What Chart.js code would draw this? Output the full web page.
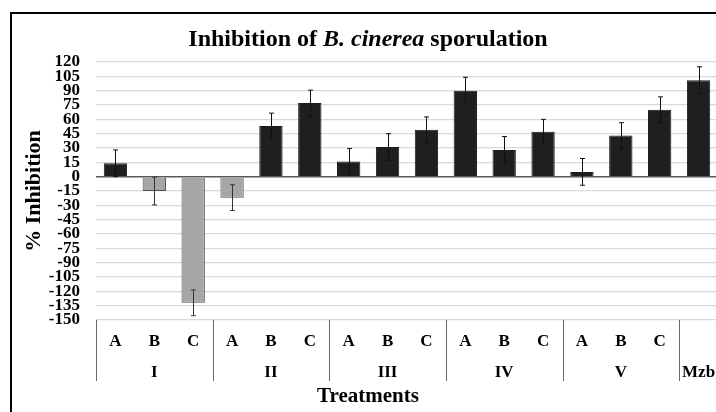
<!DOCTYPE html>
<html>
<head>
<meta charset="utf-8">
<script src="https://cdn.jsdelivr.net/npm/chart.js@4"></script>
<style>
  html, body { margin: 0; padding: 0; background: #fff; overflow: hidden; }
  #wrap { width: 722px; height: 412px; }
</style>
</head>
<body>
<div id="wrap"><canvas id="chart" width="722" height="412"></canvas></div>
<script>
// treatments along the x axis (sub label + group)
const categories = ['A', 'B', 'C', 'A', 'B', 'C', 'A', 'B', 'C', 'A', 'B', 'C', 'A', 'B', 'C', ''];
const groupLabels = ['I', 'II', 'III', 'IV', 'V', 'Mzb'];
const groupSizes = [3, 3, 3, 3, 3, 1];

// % inhibition, with the error bar half lengths
const inhibition = [14, -15, -132, -22, 53, 77, 16, 31, 49, 90, 28, 47, 5, 43, 70, 101];
const errors = [14, 14.5, 13.5, 13.5, 13.5, 13.5, 13.5, 14, 13.5, 14, 14, 13, 14, 13.5, 13.5, 14];

const yMin = -150;
const yMax = 120;
const yStep = 15;

const serif = '"Liberation Serif", "Times New Roman", serif';

let chartElement = document.querySelector('#chart');

// error bars, frame, title and the two level x axis
const decorPlugin = {
    id: 'decor',
    beforeDraw(chart) {
        let ctx = chart.ctx;
        ctx.save();
        ctx.fillStyle = '#fff';
        ctx.fillRect(0, 0, chart.width, chart.height);
        ctx.restore();
    },
    afterDatasetsDraw(chart) {
        let ctx = chart.ctx;
        let x = chart.scales.x;
        let y = chart.scales.y;
        ctx.save();
        ctx.lineWidth = 1;
        inhibition.forEach((v, i) => {
            let cx = Math.round(x.getPixelForValue(i)) + 0.5;
            let top = y.getPixelForValue(v + errors[i]);
            let bot = y.getPixelForValue(v - errors[i]);
            ctx.strokeStyle = v < 0 ? '#333' : '#111';
            ctx.beginPath();
            ctx.moveTo(cx, top);
            ctx.lineTo(cx, bot);
            ctx.moveTo(cx - 2.5, top);
            ctx.lineTo(cx + 2.5, top);
            ctx.moveTo(cx - 2.5, bot);
            ctx.lineTo(cx + 2.5, bot);
            ctx.stroke();
        });
        ctx.restore();
    },
    afterDraw(chart) {
        let ctx = chart.ctx;
        let x = chart.scales.x;
        let area = chart.chartArea;
        ctx.save();

        // outer frame (only left and top are inside the picture)
        ctx.strokeStyle = '#000';
        ctx.lineWidth = 2;
        ctx.beginPath();
        ctx.moveTo(11, chart.height + 2);
        ctx.lineTo(11, 13);
        ctx.lineTo(chart.width + 2, 13);
        ctx.stroke();

        // title with italic species name
        let parts = [
            { t: 'Inhibition of ', f: 'bold 24px ' + serif },
            { t: 'B. cinerea', f: 'italic bold 24px ' + serif },
            { t: ' sporulation', f: 'bold 24px ' + serif }
        ];
        let total = 0;
        parts.forEach(p => { ctx.font = p.f; p.w = ctx.measureText(p.t).width; total += p.w; });
        let tx = 368 - total / 2;
        ctx.fillStyle = '#000';
        ctx.textBaseline = 'alphabetic';
        ctx.textAlign = 'left';
        parts.forEach(p => { ctx.font = p.f; ctx.fillText(p.t, tx, 46); tx += p.w; });

        // sub labels
        ctx.textAlign = 'center';
        ctx.textBaseline = 'middle';
        ctx.font = 'bold 17px ' + serif;
        categories.forEach((c, i) => {
            ctx.fillText(c, x.getPixelForValue(i), 342);
        });

        // group labels and separators
        ctx.strokeStyle = '#666';
        ctx.lineWidth = 1;
        let start = 0;
        groupLabels.forEach((g, k) => {
            let size = groupSizes[k];
            let sx = Math.round(x.getPixelForValue(start - 0.5)) + 0.5;
            ctx.beginPath();
            ctx.moveTo(sx, area.bottom);
            ctx.lineTo(sx, 381);
            ctx.stroke();
            ctx.fillText(g, x.getPixelForValue(start + (size - 1) / 2), 373);
            start += size;
        });

        // axis title under the groups
        ctx.font = 'bold 21px ' + serif;
        ctx.fillText('Treatments', 368, 397);
        ctx.restore();
    }
};

let chart = new Chart(chartElement, {
    type: 'bar',
    data: {
        labels: categories,
        datasets: [{
            label: '% Inhibition',
            data: inhibition,
            backgroundColor: inhibition.map(v => v < 0 ? '#a6a6a6' : '#1f1f1f'),
            borderColor: inhibition.map(v => v < 0 ? '#505050' : '#1a1a1a'),
            borderWidth: 1,
            barPercentage: 0.6,
            categoryPercentage: 1.0
        }]
    },
    options: {
        responsive: false,
        animation: false,
        devicePixelRatio: 1,
        layout: { padding: { top: 62, right: 4, left: 0, bottom: 0 } },
        plugins: {
            legend: { display: false },
            tooltip: { enabled: false }
        },
        scales: {
            x: {
                grid: { display: false },
                border: { display: false },
                ticks: { display: false },
                afterFit: (scale) => { scale.height = 92; }
            },
            y: {
                min: yMin,
                max: yMax,
                border: { display: false },
                grid: {
                    drawTicks: false,
                    color: (c) => c.tick && c.tick.value === 0 ? '#595959' : '#d9d9d9',
                    lineWidth: (c) => c.tick && c.tick.value === 0 ? 1.5 : 1.3
                },
                ticks: {
                    stepSize: yStep,
                    autoSkip: false,
                    padding: 16,
                    color: '#000',
                    font: { family: serif, size: 17, weight: 'bold', lineHeight: 0.8 }
                },
                title: {
                    display: true,
                    text: '% Inhibition',
                    color: '#000',
                    font: { family: serif, size: 22, weight: 'bold' },
                    padding: { top: 21, bottom: 0 }
                },
                afterFit: (scale) => { scale.width = 96; }
            }
        }
    },
    plugins: [decorPlugin]
});
</script>
</body>
</html>
